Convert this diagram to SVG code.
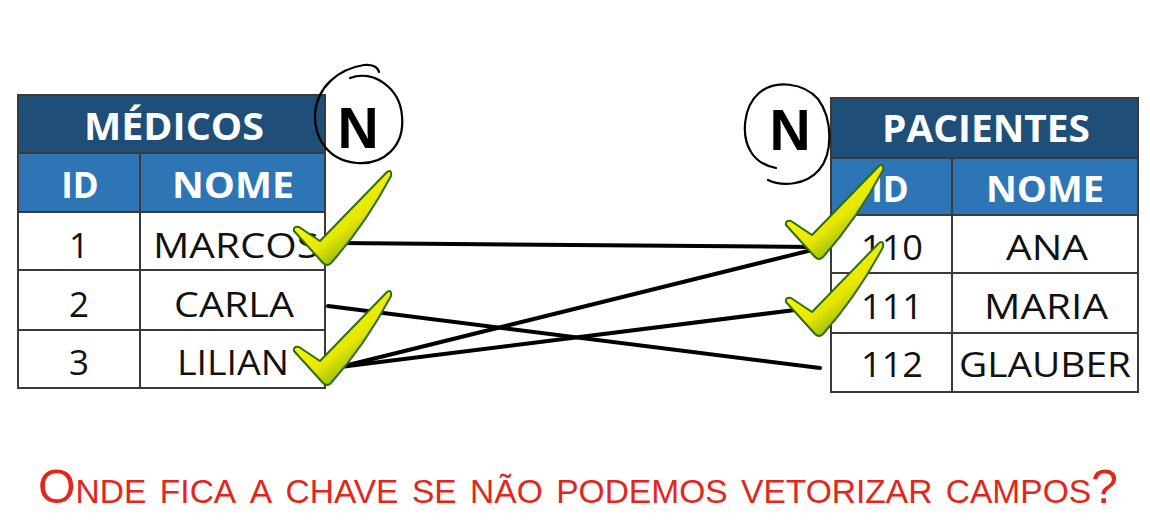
<svg xmlns="http://www.w3.org/2000/svg" width="1150" height="526" viewBox="0 0 1150 526">
<style>
.title{fill:#1F4E79}
.head{fill:#2E75B6}
.cell{fill:#FFFFFF}
.grid{stroke:#3A3A3A;stroke-width:2;fill:none}
.tt{font-family:"Open Sans","Liberation Sans",sans-serif;font-weight:700;font-size:37px;fill:#FFFFFF;text-anchor:middle}
.ht{font-family:"Open Sans","Liberation Sans",sans-serif;font-weight:700;font-size:35px;fill:#FFFFFF;text-anchor:middle}
.ct{font-family:"Open Sans","Liberation Sans",sans-serif;font-size:35px;fill:#111111;text-anchor:middle}
.nt{font-family:"Liberation Sans",Arial,sans-serif;font-weight:700;font-size:57px;fill:#000000;text-anchor:middle}
.hand{fill:none;stroke:#000000;stroke-width:2.2;stroke-linecap:round;stroke-linejoin:round}
.conn{stroke:#000000;stroke-width:4;stroke-linecap:round;fill:none}
.q{font-family:"Liberation Sans",Arial,sans-serif;font-size:49px;font-variant:small-caps;fill:#E3261B}
</style>
<defs>
<linearGradient id="chk" x1="0.2" y1="0.2" x2="0.85" y2="1">
<stop offset="0" stop-color="#FFFF1A"/>
<stop offset="0.5" stop-color="#E6E600"/>
<stop offset="1" stop-color="#3A8A1A"/>
</linearGradient>
<path id="check" d="M -32,-32 Q -33,-37 -27,-36 L -6,-22 L 61,-91 Q 66,-94 65,-87 Q 39,-38 5,0 Q 1,4 -3,0 Z" fill="url(#chk)" stroke="#2C6E10" stroke-width="2" stroke-linejoin="round"/>
</defs>
<rect width="1150" height="526" fill="#FFFFFF"/>

<g id="medicos">
<rect class="title" x="18" y="95" width="307" height="58"/>
<rect class="head" x="18" y="153" width="307" height="59"/>
<rect class="cell" x="18" y="212" width="307" height="176"/>
<rect class="grid" x="18" y="95" width="307" height="293"/>
<line class="grid" x1="18" y1="153" x2="325" y2="153"/>
<line class="grid" x1="18" y1="212" x2="325" y2="212"/>
<line class="grid" x1="18" y1="270" x2="325" y2="270"/>
<line class="grid" x1="18" y1="330" x2="325" y2="330"/>
<line class="grid" x1="140" y1="153" x2="140" y2="388"/>
<text class="tt" x="174" y="140" textLength="180" lengthAdjust="spacingAndGlyphs">MÉDICOS</text>
<text class="ht" x="80" y="198">ID</text>
<text class="ht" x="233" y="198" textLength="122" lengthAdjust="spacingAndGlyphs">NOME</text>
<text class="ct" x="79" y="258">1</text>
<text class="ct" x="236" y="258" textLength="166" lengthAdjust="spacingAndGlyphs">MARCOS</text>
<text class="ct" x="79" y="317">2</text>
<text class="ct" x="234" y="317" textLength="120" lengthAdjust="spacingAndGlyphs">CARLA</text>
<text class="ct" x="79" y="375">3</text>
<text class="ct" x="233" y="375" textLength="112" lengthAdjust="spacingAndGlyphs">LILIAN</text>
</g>

<g id="pacientes">
<rect class="title" x="831" y="98" width="307" height="60"/>
<rect class="head" x="831" y="158" width="307" height="57"/>
<rect class="cell" x="831" y="215" width="307" height="177"/>
<rect class="grid" x="831" y="98" width="307" height="294"/>
<line class="grid" x1="831" y1="158" x2="1138" y2="158"/>
<line class="grid" x1="831" y1="215" x2="1138" y2="215"/>
<line class="grid" x1="831" y1="273" x2="1138" y2="273"/>
<line class="grid" x1="831" y1="333" x2="1138" y2="333"/>
<line class="grid" x1="952" y1="158" x2="952" y2="392"/>
<text class="tt" x="986" y="142" textLength="208" lengthAdjust="spacingAndGlyphs">PACIENTES</text>
<text class="ht" x="890" y="202">ID</text>
<text class="ht" x="1045" y="202" textLength="118" lengthAdjust="spacingAndGlyphs">NOME</text>
<text class="ct" x="892" y="260" textLength="62" lengthAdjust="spacingAndGlyphs">110</text>
<text class="ct" x="1047" y="260" textLength="82" lengthAdjust="spacingAndGlyphs">ANA</text>
<text class="ct" x="892" y="319" textLength="62" lengthAdjust="spacingAndGlyphs">111</text>
<text class="ct" x="1046" y="319" textLength="124" lengthAdjust="spacingAndGlyphs">MARIA</text>
<text class="ct" x="892" y="377" textLength="62" lengthAdjust="spacingAndGlyphs">112</text>
<text class="ct" x="1045" y="377" textLength="172" lengthAdjust="spacingAndGlyphs">GLAUBER</text>
</g>

<g id="card-left">
<path class="hand" d="M 350,78 C 373,69 400,88 402,116 C 405,147 383,165 357,163 C 330,161 314,140 315,114 C 317,87 338,69 364,65 C 372,64 378,67 379,72"/>
<text class="nt" x="358" y="148">N</text>
</g>
<g id="card-right">
<path class="hand" d="M 768,180 C 782,187 806,185 819,170 C 833,154 833,119 818,99 C 804,83 775,79 759,93 C 743,107 741,136 751,152 C 757,162 766,166 776,168"/>
<text class="nt" x="790" y="150">N</text>
</g>

<g id="connectors">
<line class="conn" x1="338" y1="243" x2="812" y2="247"/>
<line class="conn" x1="328" y1="306" x2="820" y2="368"/>
<line class="conn" x1="340" y1="367" x2="812" y2="250"/>
<line class="conn" x1="340" y1="367" x2="795" y2="310"/>
</g>

<g id="checks">
<use href="#check" transform="translate(326,263)"/>
<use href="#check" transform="translate(326,383)"/>
<use href="#check" transform="translate(818,257)"/>
<use href="#check" transform="translate(818,334)"/>
</g>

<g id="question">
<text class="q" x="38" y="503" textLength="1080" lengthAdjust="spacingAndGlyphs">Onde fica a chave se não podemos vetorizar campos?</text>
</g>
</svg>
